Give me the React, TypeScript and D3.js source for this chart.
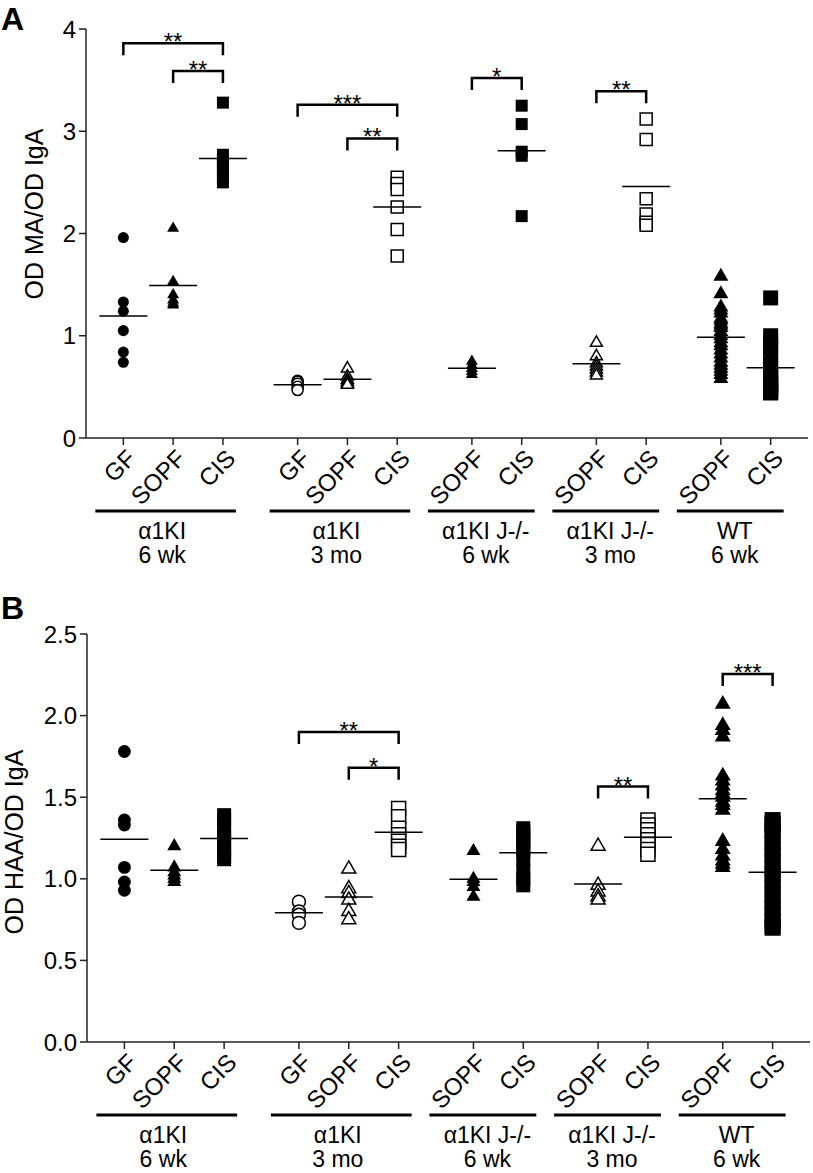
import React from "react";
import * as d3 from "d3";

// groups along the x axis (two label lines each) and their categories
const groupNames = [
  ["α1KI", "6 wk"],
  ["α1KI", "3 mo"],
  ["α1KI J-/-", "6 wk"],
  ["α1KI J-/-", "3 mo"],
  ["WT", "6 wk"],
];
const groupCats = [
  ["GF", "SOPF", "CIS"],
  ["GF", "SOPF", "CIS"],
  ["SOPF", "CIS"],
  ["SOPF", "CIS"],
  ["SOPF", "CIS"],
];

// panel A: OD MA / OD IgA, one array per category (left to right)
const maValues = [
  [1.96, 1.33, 1.24, 1.05, 0.84, 0.74],
  [2.05, 1.53, 1.4, 1.35, 1.32, 1.3],
  [3.28, 2.77, 2.72, 2.68, 2.62, 2.56, 2.5],
  [0.56, 0.55, 0.53, 0.5, 0.47],
  [0.68, 0.6, 0.57, 0.55, 0.53, 0.52],
  [2.55, 2.49, 2.43, 2.26, 2.04, 1.78],
  [0.75, 0.71, 0.68, 0.65, 0.62],
  [3.25, 3.07, 2.8, 2.76, 2.17],
  [0.93, 0.8, 0.73, 0.7, 0.67, 0.64, 0.61],
  [3.12, 2.92, 2.34, 2.19, 2.11, 2.08],
  [1.58, 1.41, 1.28, 1.25, 1.22, 1.17, 1.15, 1.12, 1.1, 1.08, 1.04, 1.0, 0.97, 0.93, 0.9, 0.86, 0.82, 0.78, 0.74, 0.71, 0.68, 0.65, 0.62, 0.58],
  [1.37, 1.0, 0.95, 0.88, 0.8, 0.72, 0.66, 0.62, 0.58, 0.55, 0.52, 0.5, 0.48, 0.46, 0.45, 0.44],
];

// panel B: OD HAA / OD IgA
const haaValues = [
  [1.78, 1.36, 1.33, 1.07, 0.98, 0.93],
  [1.2, 1.07, 1.04, 1.02, 1.0, 0.98],
  [1.39, 1.36, 1.3, 1.26, 1.22, 1.18, 1.14, 1.12],
  [0.86, 0.8, 0.78, 0.73],
  [1.06, 0.94, 0.91, 0.87, 0.8, 0.75],
  [1.43, 1.38, 1.31, 1.27, 1.23, 1.2, 1.18],
  [1.17, 1.0, 0.98, 0.95, 0.89],
  [1.31, 1.29, 1.26, 1.23, 1.2, 1.17, 1.12, 1.05, 1.0, 0.96],
  [1.2, 0.96, 0.92, 0.89, 0.87],
  [1.36, 1.33, 1.3, 1.27, 1.24, 1.21, 1.18, 1.15],
  [2.07, 1.94, 1.91, 1.87, 1.63, 1.6, 1.57, 1.54, 1.52, 1.5, 1.47, 1.45, 1.42, 1.23, 1.18, 1.14, 1.11, 1.09, 1.07],
  [1.36, 1.34, 1.33, 1.3, 1.27, 1.22, 1.18, 1.15, 1.1, 1.06, 1.03, 0.99, 0.95, 0.9, 0.86, 0.82, 0.78, 0.74, 0.71, 0.7],
];

const maTicks = [0, 1, 2, 3, 4];
const haaTicks = [0, 0.5, 1, 1.5, 2, 2.5];

// significance brackets: [from category, to category, height, label]
const maBrackets: [number, number, number, string][] = [
  [0, 2, 3.86, "**"],
  [1, 2, 3.59, "**"],
  [3, 5, 3.26, "***"],
  [4, 5, 2.93, "**"],
  [6, 7, 3.52, "*"],
  [8, 9, 3.39, "**"],
];
const haaBrackets: [number, number, number, string][] = [
  [3, 5, 1.9, "**"],
  [4, 5, 1.68, "*"],
  [8, 9, 1.565, "**"],
  [10, 11, 2.255, "***"],
];

const FONT = "'Liberation Sans', Arial, Helvetica, sans-serif";

// flatten categories and give them slot positions (gap of half a slot between groups)
const cats: {name: string, group: number, slot: number}[] = [];
{
  let pos = 0;
  groupCats.forEach((g, gi) => {
    g.forEach(name => {
      cats.push({name, group: gi, slot: pos});
      pos += 1;
    });
    pos += 0.5;
  });
}

function symbolFor(name: string) {
  if (name === "GF") return d3.symbolCircle;
  if (name === "SOPF") return d3.symbolTriangle;
  return d3.symbolSquare;
}

interface IPanelProps {
  letter: string,
  letterY: number,
  yLabel: string,
  yLabelX: number,
  yLabelY: number,
  values: number[][],
  ticks: number[],
  fmt: (v: number) => string,
  yMax: number,
  brackets: [number, number, number, string][],
  x0: number,
  x1: number,
  y0: number,
  yTop: number,
  size: number,
  wtSize: number,
}

function Panel(props: IPanelProps) {
  const {values, ticks, fmt, yMax, brackets, x0, x1, y0, yTop, size, wtSize} = props;
  const x = d3.scaleLinear().domain([-0.75, 13.75]).range([x0, x1]);
  const y = d3.scaleLinear().domain([0, yMax]).range([y0, yTop]);

  const markerPath = (name: string, w: number) => {
    let area = w * w;
    if (name === "GF") area = Math.PI * (w * 0.46) * (w * 0.46);
    if (name === "SOPF") area = (w * w * Math.sqrt(3)) / 4;
    return d3.symbol().type(symbolFor(name)).size(area)()!;
  };

  return (
    <g fontFamily={FONT}>
      <text x={1} y={props.letterY} fontSize={32} fontWeight="bold">{props.letter}</text>
      <text transform={`translate(${props.yLabelX},${props.yLabelY}) rotate(-90)`}
            textAnchor="middle" fontSize={25}>{props.yLabel}</text>

      {/* y axis */}
      <line x1={x0} x2={x0} y1={y(yMax)} y2={y0} stroke="#222" strokeWidth={1.5}/>
      {ticks.map(t => (
        <g key={t}>
          <line x1={x0 - 7} x2={x0} y1={y(t)} y2={y(t)} stroke="#222" strokeWidth={1.5}/>
          <text x={x0 - 10} y={y(t)} dy="0.36em" textAnchor="end" fontSize={24}>{fmt(t)}</text>
        </g>
      ))}

      {/* x axis */}
      <line x1={x0} x2={x1} y1={y0} y2={y0} stroke="#222" strokeWidth={1.5}/>
      {cats.map((c, i) => (
        <g key={i}>
          <line x1={x(c.slot)} x2={x(c.slot)} y1={y0} y2={y0 + 7} stroke="#222" strokeWidth={1.5}/>
          <text transform={`translate(${x(c.slot) + 14},${y0 + 22}) rotate(-45)`}
                textAnchor="end" fontSize={24}>{c.name}</text>
        </g>
      ))}

      {/* group bars and labels */}
      {groupNames.map((gn, gi) => {
        const members = cats.filter(c => c.group === gi);
        const first = x(members[0].slot);
        const last = x(members[members.length - 1].slot);
        const left = first - (members.length === 3 ? 28 : 44);
        const right = last + 13;
        const cx = (first + last) / 2 - 11;
        return (
          <g key={gi}>
            <line x1={left} x2={right} y1={y0 + 73} y2={y0 + 73} stroke="#000" strokeWidth={3}/>
            <text x={cx} y={y0 + 101} textAnchor="middle" fontSize={23}>{gn[0]}</text>
            <text x={cx} y={y0 + 125} textAnchor="middle" fontSize={23}>{gn[1]}</text>
          </g>
        );
      })}

      {/* points */}
      {cats.map((c, i) => {
        const open = groupNames[c.group][1] === "3 mo";
        const w = groupNames[c.group][0] === "WT" ? wtSize : size;
        const d = markerPath(c.name, w);
        return (
          <g key={i}>
            {values[i].map((v, j) => (
              <path key={j} d={d} transform={`translate(${x(c.slot)},${y(v)})`}
                    fill={open ? "#fff" : "#000"} stroke={open ? "#000" : "none"} strokeWidth={1.5}/>
            ))}
          </g>
        );
      })}

      {/* mean lines */}
      {cats.map((c, i) => {
        const m = d3.mean(values[i])!;
        return <line key={i} x1={x(c.slot) - 24} x2={x(c.slot) + 24} y1={y(m)} y2={y(m)}
                     stroke="#000" strokeWidth={1.5}/>;
      })}

      {/* brackets */}
      {brackets.map(([a, b, v, label], i) => {
        const xa = x(cats[a].slot);
        const xb = x(cats[b].slot);
        const yy = y(v);
        return (
          <g key={i}>
            <path d={`M${xa},${yy + 12}V${yy}H${xb}V${yy + 12}`} fill="none" stroke="#000" strokeWidth={2.5}/>
            <text x={(xa + xb) / 2} y={yy + 7} textAnchor="middle" fontSize={24}>{label}</text>
          </g>
        );
      })}
    </g>
  );
}

export default function App() {
  return (
    <svg width={813} height={1173} style={{position: "absolute", left: 0, top: 0, background: "#fff"}}>
      <rect width={813} height={1173} fill="#fff"/>
      <Panel letter="A" letterY={30} yLabel="OD MA/OD IgA" yLabelX={43} yLabelY={214}
             values={maValues} ticks={maTicks} fmt={d3.format("d")} yMax={4} brackets={maBrackets}
             x0={86} x1={808} y0={438} yTop={29} size={12} wtSize={15}/>
      <Panel letter="B" letterY={619} yLabel="OD HAA/OD IgA" yLabelX={23} yLabelY={842}
             values={haaValues} ticks={haaTicks} fmt={d3.format(".1f")} yMax={2.5} brackets={haaBrackets}
             x0={87} x1={810} y0={1042} yTop={634} size={14} wtSize={16}/>
    </svg>
  );
}
